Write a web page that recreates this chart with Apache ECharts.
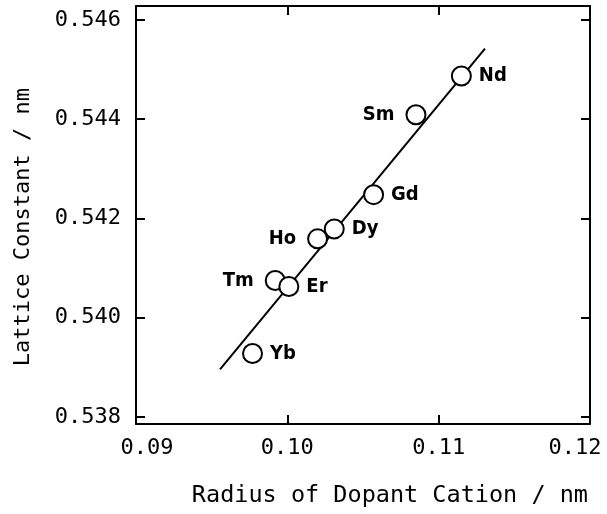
<!DOCTYPE html>
<html><head><meta charset="utf-8">
<script src="https://cdn.jsdelivr.net/npm/echarts@6/dist/echarts.min.js"></script>
<style>html,body{margin:0;padding:0;background:#fff}#c{width:607px;height:514px}</style>
</head><body><div id="c"></div>
<script>
const elements = ['Yb','Tm','Er','Ho','Dy','Gd','Sm','Nd'];
const radius =   [0.0977,0.0992,0.1001,0.1020,0.1031,0.1057,0.1085,0.1115];
const lattice =  [0.53928,0.54075,0.54063,0.54159,0.54179,0.54248,0.54409,0.54487];
const labelSide = ['right','left','right','left','right','right','left','right'];
const fitX = [0.09555, 0.11306];
const fitY = [0.53896, 0.54542];
const xTicks = [0.09,0.10,0.11,0.12];
const yTicks = [0.538,0.540,0.542,0.544,0.546];

const FONT = 'DejaVu Sans Mono';
const LFONT = '"DejaVu Sans Condensed", "Liberation Sans", sans-serif';
const chart = echarts.init(document.getElementById('c'), null, {renderer:'canvas'});
const axisCommon = {
  axisLine:{show:true,lineStyle:{color:'#000',width:2}},
  axisTick:{show:true,inside:true,length:9,lineStyle:{color:'#000',width:2}},
  splitLine:{show:false}
};
const xRich = {
  n:{fontFamily:FONT,fontSize:22,color:'#000'},
  first:{fontFamily:FONT,fontSize:22,color:'#000',padding:[0,0,0,22]},
  last:{fontFamily:FONT,fontSize:22,color:'#000',padding:[0,30,0,0]}
};
chart.setOption({
  animation:false,
  backgroundColor:'#fff',
  grid:{left:136,right:17,top:6,bottom:90,containLabel:false,outerBoundsMode:'none'},
  graphic:[{type:'text',left:12,top:88,rotation:Math.PI/2,
    style:{text:'Lattice Constant / nm',font:'22px "DejaVu Sans Mono"',fill:'#000'}}],
  xAxis:[
    Object.assign({}, axisCommon, {type:'value',position:'bottom',min:0.09,max:0.12,
      axisTick:Object.assign({},axisCommon.axisTick,{customValues:xTicks}),
      axisLabel:{customValues:xTicks,margin:13,rich:xRich,
        formatter:v=>{const s=v.toFixed(2); if(Math.abs(v-0.09)<1e-9) return '{first|'+s+'}';
          if(Math.abs(v-0.12)<1e-9) return '{last|'+s+'}'; return '{n|'+s+'}';}},
      name:'Radius of Dopant Cation / nm',nameLocation:'end',nameGap:0,
      nameTextStyle:{fontFamily:FONT,fontSize:23.5,color:'#000',align:'right',verticalAlign:'top',padding:[60,2,0,0]}}),
    Object.assign({}, axisCommon, {type:'value',position:'top',min:0.09,max:0.12,
      axisTick:Object.assign({},axisCommon.axisTick,{customValues:xTicks}),
      axisLabel:{show:false}})
  ],
  yAxis:[
    Object.assign({}, axisCommon, {type:'value',position:'left',min:0.53786,max:0.54628,
      axisTick:Object.assign({},axisCommon.axisTick,{customValues:yTicks}),
      axisLabel:{customValues:yTicks,formatter:v=>v.toFixed(3),fontFamily:FONT,fontSize:22,color:'#000',margin:15}}),
    Object.assign({}, axisCommon, {type:'value',position:'right',min:0.53786,max:0.54628,
      axisTick:Object.assign({},axisCommon.axisTick,{customValues:yTicks}),
      axisLabel:{show:false}})
  ],
  series:[
    {type:'line',data:fitX.map((x,i)=>[x,fitY[i]]),symbol:'none',
     lineStyle:{color:'#000',width:2},z:1},
    {type:'scatter',data:radius.map((x,i)=>({value:[x,lattice[i]],
       label:{show:true,position:labelSide[i],formatter:elements[i],distance:labelSide[i]==='left'?11:7,
         fontFamily:LFONT,fontWeight:'bold',fontSize:20,color:'#000'}})),
     symbol:'circle',symbolSize:19,
     itemStyle:{color:'#fff',borderColor:'#000',borderWidth:2,opacity:1},
     z:3}
  ]
});
</script></body></html>
